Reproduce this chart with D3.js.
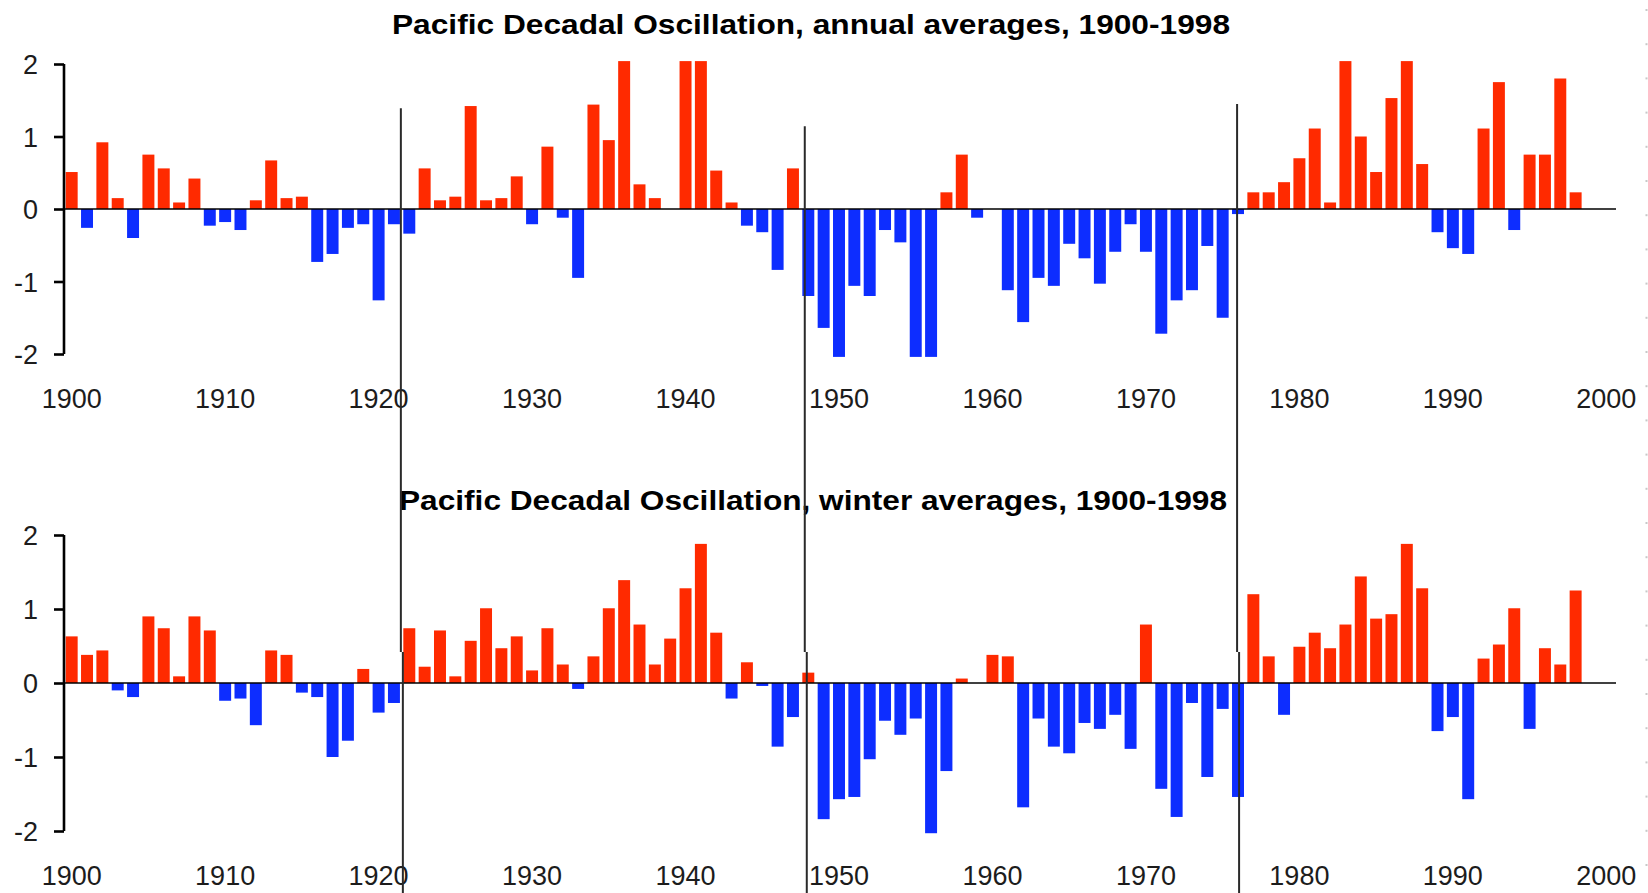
<!DOCTYPE html>
<html>
<head>
<meta charset="utf-8">
<script src="https://cdn.jsdelivr.net/npm/d3@7"></script>
<style>
  html, body { margin: 0; padding: 0; background: #fff; }
  svg { display: block; }
  text { font-family: "Liberation Sans", Arial, sans-serif; fill: #1c1c1c; }
</style>
</head>
<body>
<svg id="chart" width="1648" height="893"></svg>
<script>
// PDO index, one value per year 1900–1998
const years = d3.range(1900, 1999);

const annualValues = [
  0.51, -0.26, 0.92, 0.15, -0.40, 0.75, 0.56, 0.09, 0.42, -0.23,
  -0.18, -0.29, 0.12, 0.67, 0.15, 0.17, -0.73, -0.62, -0.26, -0.21,
  -1.26, -0.21, -0.34, 0.56, 0.12, 0.17, 1.42, 0.12, 0.15, 0.45,
  -0.21, 0.86, -0.12, -0.95, 1.44, 0.95, 2.04, 0.34, 0.15, 0,
  2.04, 2.04, 0.53, 0.09, -0.23, -0.32, -0.84, 0.56, -1.20, -1.64,
  -2.04, -1.06, -1.20, -0.29, -0.46, -2.04, -2.04, 0.23, 0.75, -0.12,
  0, -1.12, -1.56, -0.95, -1.06, -0.48, -0.68, -1.03, -0.59, -0.21,
  -0.59, -1.72, -1.26, -1.12, -0.51, -1.50, -0.07, 0.23, 0.23, 0.37,
  0.70, 1.11, 0.09, 2.04, 1.00, 0.51, 1.53, 2.04, 0.62, -0.32,
  -0.54, -0.62, 1.11, 1.75, -0.29, 0.75, 0.75, 1.80, 0.23
];

const winterValues = [
  0.63, 0.38, 0.44, -0.10, -0.19, 0.90, 0.74, 0.09, 0.90, 0.71,
  -0.24, -0.21, -0.57, 0.44, 0.38, -0.13, -0.19, -1.00, -0.78, 0.19,
  -0.40, -0.27, 0.74, 0.22, 0.71, 0.09, 0.57, 1.01, 0.47, 0.63,
  0.17, 0.74, 0.25, -0.08, 0.36, 1.01, 1.39, 0.79, 0.25, 0.60,
  1.28, 1.88, 0.68, -0.21, 0.28, -0.04, -0.86, -0.46, 0.14, -1.84,
  -1.57, -1.54, -1.03, -0.51, -0.70, -0.48, -2.03, -1.19, 0.06, 0,
  0.38, 0.36, -1.68, -0.48, -0.86, -0.95, -0.54, -0.62, -0.43, -0.89,
  0.79, -1.43, -1.81, -0.27, -1.27, -0.35, -1.54, 1.20, 0.36, -0.43,
  0.49, 0.68, 0.47, 0.79, 1.44, 0.87, 0.93, 1.88, 1.28, -0.65,
  -0.46, -1.57, 0.33, 0.52, 1.01, -0.62, 0.47, 0.25, 1.25
];

const yTicks = [-2, -1, 0, 1, 2];
const xTickYears = [1900, 1910, 1920, 1930, 1940, 1950, 1960, 1970, 1980, 1990, 2000];

const titles = [
  "Pacific Decadal Oscillation, annual averages, 1900-1998",
  "Pacific Decadal Oscillation, winter averages, 1900-1998"
];

// Regime-shift markers: year position and the index value where each line starts in the upper panel
const regimeYears = [1921.45, 1947.77, 1975.94];
const regimeStartValues = [1.39, 1.14, 1.45];

const POS = "#ff2a00", NEG = "#0d2dff";

const svg = d3.select("#chart");

const x = d3.scaleLinear().domain([1899.5, 2000.5]).range([64, 1614]);
const barW = (x(1901) - x(1900)) * 0.78;

const panels = [
  { values: annualValues, title: titles[0], y: d3.scaleLinear().domain([-2, 2]).range([354, 64]),
    titleY: 34, titleW: 838, titleX: 811, labelY: 408 },
  { values: winterValues, title: titles[1], y: d3.scaleLinear().domain([-2, 2]).range([831, 535]),
    titleY: 510, titleW: 828, titleX: 813, labelY: 885 }
];

panels.forEach(p => {
  const g = svg.append("g");
  const rows = years.map((yr, i) => ({ year: yr, v: p.values[i] }));

  g.selectAll("rect.bar").data(rows).join("rect")
    .attr("class", "bar")
    .attr("x", d => x(d.year) - barW / 2)
    .attr("width", barW)
    .attr("y", d => p.y(Math.max(0, d.v)))
    .attr("height", d => Math.abs(p.y(d.v) - p.y(0)))
    .attr("fill", d => d.v >= 0 ? POS : NEG);

  // zero line
  g.append("line")
    .attr("x1", x.range()[0]).attr("x2", 1616)
    .attr("y1", p.y(0)).attr("y2", p.y(0))
    .attr("stroke", "#000").attr("stroke-width", 1.6);

  // value axis (plain hyphen for negatives)
  const axis = d3.axisLeft(p.y).tickValues(yTicks).tickSize(10).tickFormat(d => String(d));
  const ag = g.append("g").attr("transform", `translate(${x.range()[0]},0)`).call(axis);
  ag.select(".domain").attr("stroke", "#000").attr("stroke-width", 2.6)
    .attr("d", `M0,${p.y(2)}V${p.y(-2)}`);
  ag.selectAll(".tick line").attr("stroke", "#000").attr("stroke-width", 2.6);
  ag.selectAll(".tick text")
    .attr("x", -26).attr("dy", "0.36em")
    .style("font-size", "27px").style("fill", "#1c1c1c")
    .attr("font-family", null);

  // year labels
  g.selectAll("text.year").data(xTickYears).join("text")
    .attr("class", "year")
    .attr("x", d => x(d)).attr("y", p.labelY)
    .attr("text-anchor", "middle")
    .style("font-size", "27px")
    .text(d => d);

  // title
  g.append("text")
    .attr("x", p.titleX).attr("y", p.titleY)
    .attr("text-anchor", "middle")
    .attr("textLength", p.titleW).attr("lengthAdjust", "spacingAndGlyphs")
    .style("font-size", "28px").style("font-weight", "bold").style("fill", "#000")
    .text(p.title);
});

// regime-shift lines crossing both panels
const splitY = 652;
regimeYears.forEach((yr, i) => {
  const top = panels[0].y(regimeStartValues[i]);
  svg.append("line")
    .attr("x1", x(yr)).attr("x2", x(yr))
    .attr("y1", top).attr("y2", splitY)
    .attr("stroke", "#2a2a2a").attr("stroke-width", 2);
  svg.append("line")
    .attr("x1", x(yr) + 2).attr("x2", x(yr) + 2)
    .attr("y1", splitY).attr("y2", 893)
    .attr("stroke", "#2a2a2a").attr("stroke-width", 2);
});

// faint dotted page edge on the right
svg.append("g").selectAll("rect").data(d3.range(26)).join("rect")
  .attr("x", 1645.5).attr("y", d => 9 + d * 34.2)
  .attr("width", 2).attr("height", 2)
  .attr("fill", "#c8c8c8");
</script>
</body>
</html>
